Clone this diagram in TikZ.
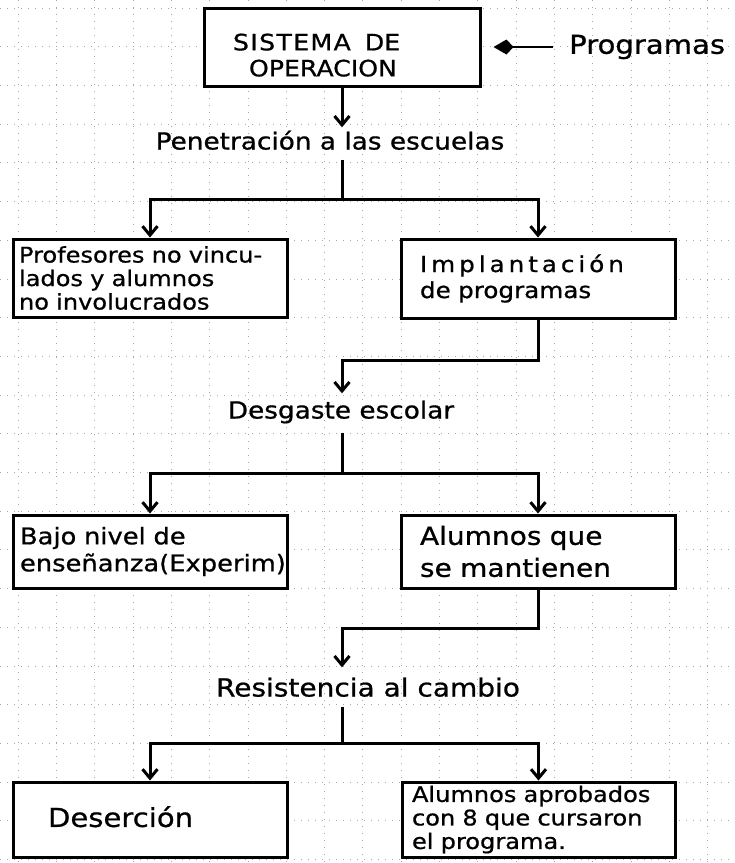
\documentclass[tikz,border=0pt]{standalone}
\usepackage{fontspec}
\setmainfont{DejaVu Sans}
\newfontfamily\hand{DejaVu Sans}[FakeStretch=1.12,FakeBold=0.8]
\usetikzlibrary{arrows.meta}

\begin{document}
\begin{tikzpicture}[x=1pt,y=-1pt,
  ink/.style={line width=3pt},
  flow/.style={ink,-{Straight Barb[length=9pt,width=15pt]}},
  box/.style={draw, line width=3pt, fill=white, align=left, inner ysep=2pt},
  label/.style={font=\hand\fontsize{23.5}{26}\selectfont, inner sep=0pt,
                text height=18pt, text depth=5pt},
  gridline/.style={black!35, line width=0.8pt, dash pattern=on 1pt off 6pt}
]
\useasboundingbox (0,0) rectangle (735,863);

% faint squared paper underneath
\foreach \i in {0,...,18}
  \draw[gridline] ({18.1+38.3*\i},0) -- ({18.1+38.3*\i},863);
\foreach \j in {0,...,22}
  \draw[gridline] (0,{8+38.7*\j}) -- (735,{8+38.7*\j});

% top block and its input
\node[box, minimum width=276pt, minimum height=78pt, inner xsep=7pt,
      text width=262pt, font=\hand\fontsize{22.5}{26}\selectfont]
  (sys) at (342,47) {\rule{0pt}{33pt}\hspace*{22pt}{\addfontfeature{LetterSpace=6}SISTEMA}\hspace{14pt}DE\\
                     \hspace*{38pt}OPERACION};
\node[anchor=west, inner sep=0pt, font=\hand\fontsize{26}{30}\selectfont]
  (prog) at (569,47) {Programas};
\draw[line width=2.8pt, -{Kite[length=20pt,width=15pt,inset=7pt]},
      shorten <=16pt, shorten >=12pt] (prog.west) -- (sys.east);

% first level
\node[label] (pen) at (330,143) {Penetración a las escuelas};
\coordinate (k1) at (342,199);
\node[box, minimum width=274pt, minimum height=78pt, inner xsep=6pt,
      text width=262pt, font=\hand\fontsize{21.5}{23.5}\selectfont]
  (L1) at (150,278) {Profesores no vincu-\\lados y alumnos\\no involucrados};
\node[box, minimum width=274pt, minimum height=79pt, inner xsep=19pt,
      text width=236pt, font=\hand\fontsize{22}{26}\selectfont]
  (R1) at (538,278.5) {{\addfontfeature{LetterSpace=18}Implantación}\\de programas};

\draw[flow, shorten >=4pt] (sys.south) -- (sys.south |- pen.north);
\draw[ink, shorten <=5pt] (k1 |- pen.south) -- (k1);
\draw[flow] (k1) -| (L1.north);
\draw[flow] (k1) -| (R1.north);

% second level
\node[label] (des) at (341,412) {Desgaste escolar};
\coordinate (j1) at (342,360);
\coordinate (k2) at (342,473);
\node[box, minimum width=274pt, minimum height=73pt, inner xsep=7pt,
      text width=260pt, font=\hand\fontsize{23}{27}\selectfont]
  (L2) at (150,551.5) {Bajo nivel de\\enseñanza(Experim)};
\node[box, minimum width=274pt, minimum height=73pt, inner xsep=19pt,
      text width=236pt, font=\hand\fontsize{25}{32}\selectfont]
  (R2) at (538,551.5) {Alumnos que\\se mantienen};

\draw[flow, shorten >=7pt] (R1.south) |- (j1) -- (des.north -| j1);
\draw[ink, shorten <=9pt] (k2 |- des.south) -- (k2);
\draw[flow] (k2) -| (L2.north);
\draw[flow] (k2) -| (R2.north);

% third level
\node[label, font=\hand\fontsize{25}{28}\selectfont] (res) at (368,690) {Resistencia al cambio};
\coordinate (j2) at (342,628);
\coordinate (k3) at (342,743);
\node[box, minimum width=274pt, minimum height=75pt, inner xsep=35pt,
      text width=204pt, font=\hand\fontsize{26}{30}\selectfont]
  (L3) at (150,819.5) {\raisebox{6pt}{Deserción}};
\node[box, minimum width=273pt, minimum height=75pt, inner xsep=10pt,
      text width=253pt, font=\hand\fontsize{21.5}{23.5}\selectfont]
  (R3) at (538.5,819.5) {Alumnos aprobados\\con 8 que cursaron\\el programa.};

\draw[flow, shorten >=11pt] (R2.south) |- (j2) -- (res.north -| j2);
\draw[ink, shorten <=5pt] (k3 |- res.south) -- (k3);
\draw[flow] (k3) -| (L3.north);
\draw[flow] (k3) -| (R3.north);
\end{tikzpicture}
\end{document}
